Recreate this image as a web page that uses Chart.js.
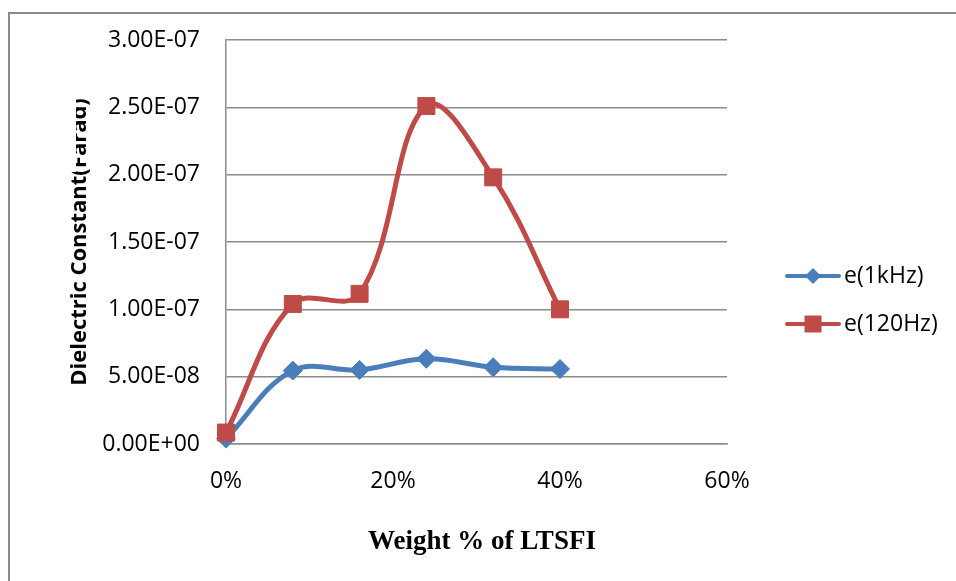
<!DOCTYPE html>
<html>
<head>
<meta charset="utf-8">
<script src="https://cdn.jsdelivr.net/npm/chart.js@4.4.0/dist/chart.umd.min.js"></script>
<style>
  html, body { margin: 0; padding: 0; background: #ffffff; }
  #wrap { width: 956px; height: 581px; position: relative; }
</style>
</head>
<body>
<div id="wrap"><canvas id="chart" width="956" height="581"></canvas></div>
<script>
// Filler content (weight fraction) and measured dielectric constant
const weightFractions = [0, 0.08, 0.16, 0.24, 0.32, 0.40];
const eps1kHz  = [4e-9, 5.45e-8, 5.5e-8, 6.33e-8, 5.7e-8, 5.57e-8];
const eps120Hz = [8.5e-9, 1.04e-7, 1.115e-7, 2.51e-7, 1.98e-7, 1.0e-7];
const seriesNames = ['e(1kHz)', 'e(120Hz)'];
const xTickLabels = ['0%', '20%', '40%', '60%'];
const yTickLabels = ['0.00E+00', '5.00E-08', '1.00E-07', '1.50E-07', '2.00E-07', '2.50E-07', '3.00E-07'];
const xTitle = 'Weight % of LTSFI';
const yTitle = 'Dielectric Constant(Farad)';

const BLUE = '#4a7ebb';
const RED = '#be4b48';
const GRID = '#8c8c8c';
const SANS = '"Open Sans", "Noto Sans", sans-serif';

function toPoints(xs, ys) {
  return xs.map((x, i) => ({ x: x, y: ys[i] }));
}

// Frame, axis titles and legend drawn around the plot
const decorations = {
  id: 'decorations',
  beforeDraw(chart) {
    const ctx = chart.ctx;
    ctx.save();
    ctx.fillStyle = '#ffffff';
    ctx.fillRect(0, 0, chart.width, chart.height);
    ctx.strokeStyle = '#8a8a8a';
    ctx.lineWidth = 2;
    ctx.beginPath();
    ctx.moveTo(9, chart.height + 5);
    ctx.lineTo(9, 13);
    ctx.lineTo(chart.width + 5, 13);
    ctx.stroke();
    ctx.restore();
  },
  afterDraw(chart) {
    const ctx = chart.ctx;
    const area = chart.chartArea;

    // x-axis title
    ctx.save();
    ctx.fillStyle = '#000000';
    ctx.font = 'bold 27px "Liberation Serif", "Times New Roman", serif';
    ctx.textAlign = 'center';
    ctx.textBaseline = 'alphabetic';
    ctx.fillText(xTitle, 482, 549);
    ctx.restore();

    // y-axis title (the tail is partly cut off)
    ctx.save();
    ctx.beginPath();
    ctx.rect(0, 172, chart.width, chart.height);
    ctx.rect(76, 0, chart.width, 172);
    ctx.clip();
    ctx.translate(86, (area.top + area.bottom) / 2);
    ctx.rotate(-Math.PI / 2);
    ctx.fillStyle = '#000000';
    ctx.font = 'bold 22px ' + SANS;
    ctx.textAlign = 'center';
    ctx.textBaseline = 'alphabetic';
    ctx.fillText(yTitle, 0, 0);
    ctx.restore();

    // legend
    const rows = [276, 324];
    chart.data.datasets.forEach((ds, i) => {
      const y = rows[i];
      ctx.save();
      ctx.strokeStyle = ds.borderColor;
      ctx.lineWidth = 4;
      ctx.lineCap = 'round';
      ctx.beginPath();
      ctx.moveTo(787, y);
      ctx.lineTo(839, y);
      ctx.stroke();
      ctx.fillStyle = ds.backgroundColor;
      ctx.beginPath();
      if (ds.pointStyle === 'rectRot') {
        ctx.moveTo(813, y - 8);
        ctx.lineTo(821, y);
        ctx.lineTo(813, y + 8);
        ctx.lineTo(805, y);
        ctx.closePath();
      } else {
        ctx.rect(813 - 8.5, y - 8.5, 17, 17);
      }
      ctx.fill();
      ctx.fillStyle = '#000000';
      ctx.font = '23px ' + SANS;
      ctx.textAlign = 'left';
      ctx.textBaseline = 'middle';
      ctx.fillText(ds.label, 844, y);
      ctx.restore();
    });
  }
};

new Chart(document.getElementById('chart'), {
  type: 'line',
  data: {
    datasets: [
      {
        label: seriesNames[0],
        data: toPoints(weightFractions, eps1kHz),
        borderColor: BLUE,
        backgroundColor: BLUE,
        borderWidth: 5,
        pointStyle: 'rectRot',
        pointRadius: 9.5,
        pointBorderWidth: 1,
        pointBorderColor: BLUE,
        pointBackgroundColor: BLUE,
        tension: 0.38,
        clip: false,
        order: 1
      },
      {
        label: seriesNames[1],
        data: toPoints(weightFractions, eps120Hz),
        borderColor: RED,
        backgroundColor: RED,
        borderWidth: 5,
        pointStyle: 'rect',
        pointRadius: 12,
        pointBorderWidth: 1,
        pointBorderColor: RED,
        pointBackgroundColor: RED,
        tension: 0.38,
        clip: false,
        order: 0
      }
    ]
  },
  options: {
    responsive: false,
    maintainAspectRatio: false,
    animation: false,
    events: [],
    layout: { padding: { left: 0, top: 40, right: 229, bottom: 0 } },
    plugins: {
      legend: { display: false },
      tooltip: { enabled: false },
      title: { display: false }
    },
    scales: {
      x: {
        type: 'linear',
        min: 0,
        max: 0.6,
        afterFit(scale) { scale.height = 137; },
        afterBuildTicks(scale) {
          scale.ticks = xTickLabels.map((_, i) => ({ value: i * 0.2 }));
        },
        grid: { display: false, drawTicks: false },
        border: { display: true, color: GRID, width: 1.5 },
        ticks: {
          padding: 24,
          color: '#000000',
          font: { family: SANS, size: 23 },
          maxRotation: 0,
          callback: (v, i) => xTickLabels[i]
        }
      },
      y: {
        min: 0,
        max: 3e-7,
        afterFit(scale) { scale.width = 226; },
        afterBuildTicks(scale) {
          scale.ticks = yTickLabels.map((_, i) => ({ value: i * 5e-8 }));
        },
        grid: { display: true, color: GRID, lineWidth: 1.5, drawTicks: false },
        border: { display: true, color: GRID, width: 1.5 },
        ticks: {
          padding: 26,
          color: '#000000',
          font: { family: SANS, size: 23 },
          callback: (v, i) => yTickLabels[i]
        }
      }
    }
  },
  plugins: [decorations]
});
</script>
</body>
</html>
